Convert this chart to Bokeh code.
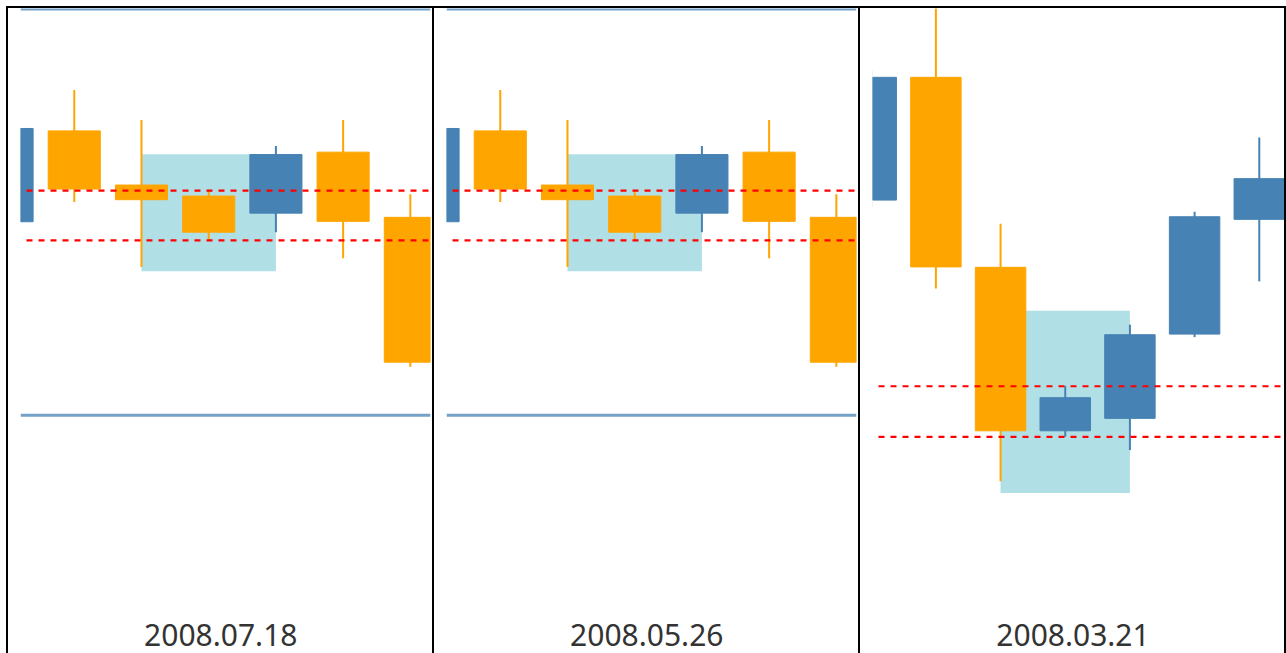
from bokeh.plotting import figure
from bokeh.layouts import row
from bokeh.models import Span, Label, Range1d
from bokeh.embed import file_html
from bokeh.resources import INLINE

# ---------------- data ----------------
dates = ["2008.07.18", "2008.05.26", "2008.03.21"]
idx = [0, 1, 2, 3, 4, 5, 6]

# panel 1 (2008.07.18)
p1_open = [119.37, 123.90, 121.20, 120.65, 119.80, 122.84, 119.59]
p1_close = [124.02, 121.00, 120.47, 118.85, 122.72, 119.39, 112.37]
p1_high = [124.40, 125.94, 124.44, 120.90, 123.15, 124.44, 120.74]
p1_low = [119.00, 120.35, 117.12, 118.44, 118.85, 117.55, 112.14]
p1_zone = [2, 4, 122.74, 116.90]          # from idx, to idx, top, bottom
p1_levels = [120.92, 118.44]
p1_bands = [129.98, 109.73]

# panel 2 (2008.05.26)
p2_open = [119.37, 123.90, 121.20, 120.65, 119.80, 122.84, 119.59]
p2_close = [124.02, 121.00, 120.47, 118.85, 122.72, 119.39, 112.37]
p2_high = [124.40, 125.94, 124.44, 120.90, 123.15, 124.44, 120.74]
p2_low = [119.00, 120.35, 117.12, 118.44, 118.85, 117.55, 112.14]
p2_zone = [2, 4, 122.74, 116.90]
p2_levels = [120.92, 118.44]
p2_bands = [129.98, 109.73]

# panel 3 (2008.03.21)
p3_open = [70.45, 76.57, 67.10, 58.95, 59.57, 63.77, 69.49]
p3_close = [76.57, 67.12, 58.95, 60.60, 63.74, 69.62, 71.52]
p3_high = [76.90, 81.40, 69.27, 61.19, 64.24, 69.87, 73.57]
p3_low = [70.10, 66.04, 56.44, 58.65, 57.99, 63.62, 66.40]
p3_zone = [2, 4, 64.94, 55.85]
p3_levels = [61.17, 58.65]
p3_bands = []

UP = "#4682B4"
DOWN = "#FFA500"
ZONE = "#B0E0E6"


def panel(date, o, c, h, l, zone, levels, bands, xr, yr, bw, label_xy, last=False):
    styles = {"border-left": "2px solid black", "border-top": "2px solid black"}
    w = 426
    if last:
        styles["border-right"] = "2px solid black"
        w = 428
    p = figure(width=w, height=647, x_range=Range1d(*xr), y_range=Range1d(*yr),
               output_backend="svg", toolbar_location=None,
               x_axis_location=None, y_axis_location=None,
               min_border_left=12, min_border_right=4,
               min_border_top=0, min_border_bottom=0, styles=styles)
    p.grid.visible = False
    p.outline_line_color = None
    p.background_fill_color = "white"

    p.quad(left=[zone[0]], right=[zone[1]], top=[zone[2]], bottom=[zone[3]],
           fill_color=ZONE, line_color=None)

    colors = [UP if cc > oo else DOWN for oo, cc in zip(o, c)]
    p.segment(x0=idx, x1=idx, y0=h, y1=l, line_color=colors, line_width=2)
    p.vbar(x=idx, width=bw, top=[max(a, b) for a, b in zip(o, c)],
           bottom=[min(a, b) for a, b in zip(o, c)],
           fill_color=colors, line_color=colors, line_width=1)

    for b in bands:
        p.add_layout(Span(location=b, dimension="width", line_color=UP,
                          line_alpha=0.75, line_width=3))
    for lv in levels:
        p.add_layout(Span(location=lv, dimension="width", line_color="red",
                          line_width=2.2, line_dash="6 6", line_dash_offset=6))

    p.add_layout(Label(x=label_xy[0], y=label_xy[1], text=date,
                       text_align="center", text_baseline="bottom",
                       text_font="Noto Sans", text_font_size="30px",
                       text_color="#333333"))
    return p


f1 = panel(dates[0], p1_open, p1_close, p1_high, p1_low, p1_zone, p1_levels, p1_bands,
           (0.2, 6.3), (97.75, 130.0), 0.775, (3.18, 98.22))
f2 = panel(dates[1], p2_open, p2_close, p2_high, p2_low, p2_zone, p2_levels, p2_bands,
           (0.2, 6.3), (97.75, 130.0), 0.775, (3.18, 98.22))
f3 = panel(dates[2], p3_open, p3_close, p3_high, p3_low, p3_zone, p3_levels, p3_bands,
           (0.02, 6.39), (47.75, 80.0), 0.78, (3.12, 48.22), last=True)

layout = row(f1, f2, f3, spacing=0,
             styles={"margin-left": "6px", "margin-top": "6px"})

open("out.html", "w").write(file_html(layout, INLINE))
